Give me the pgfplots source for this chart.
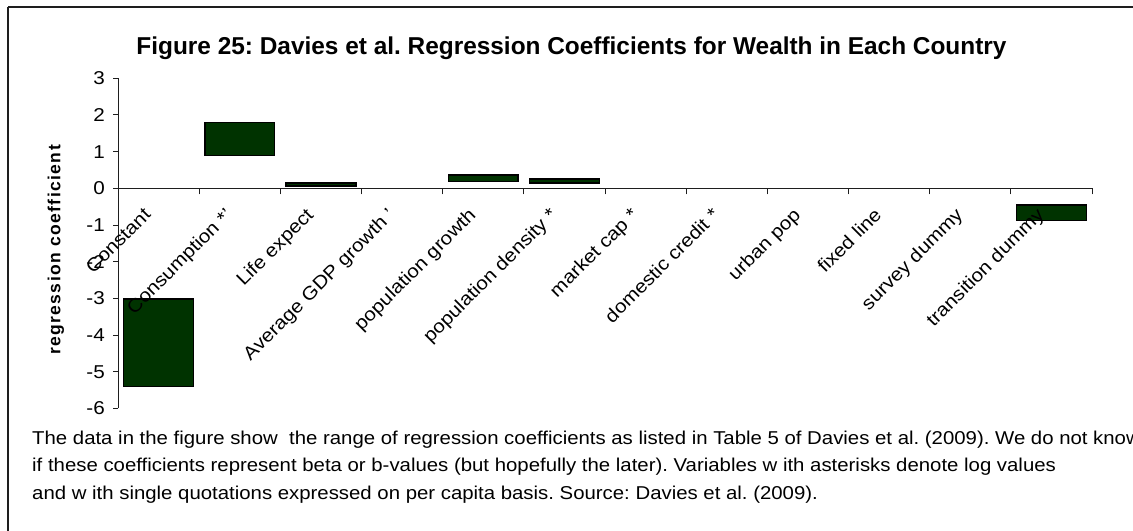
\documentclass[border=0pt]{standalone}
\usepackage{pgfplots}
\usepackage{pgfplotstable}
\pgfplotsset{compat=1.18}
\usepackage{fontspec}
\setmainfont{Liberation Sans}
\definecolor{bargreen}{RGB}{0,51,0}
\definecolor{framegray}{RGB}{30,30,30}
\newcommand\lbl{\fontsize{18.6bp}{21bp}\selectfont\addfontfeature{FakeStretch=1.11}}
\newcommand\capfont{\fontsize{18.6bp}{21bp}\selectfont\addfontfeature{FakeStretch=1.095}}

% each range bar spans from "start" (end nearest zero) to "stop"
\pgfplotstableread{
x    start  stop
0.5  -3.02  -5.40
1.5   0.90   1.79
2.5   0.07   0.15
4.5   0.19   0.36
5.5   0.14   0.26
11.5 -0.45  -0.88
}\ranges

\begin{document}
\frenchspacing
\begin{tikzpicture}
\path[use as bounding box] (0,0) rectangle (1133bp,531bp);
\draw[line width=1.5bp, framegray] (8bp,524bp) -- (1150bp,524bp);
\draw[line width=1.5bp, framegray] (8bp,524bp) -- (8bp,-10bp);

\node[anchor=base, inner sep=0pt, font=\fontsize{24.4bp}{28bp}\selectfont\bfseries]
  at (571.5bp,476bp) {Figure 25: Davies et al. Regression Coefficients for Wealth in Each Country};

\node[rotate=90, inner sep=0pt, font=\fontsize{17.5bp}{20bp}\selectfont\bfseries\addfontfeature{LetterSpace=8}]
  at (56bp,281bp) {regression coefficient};

\begin{axis}[
  at={(118bp,122.5bp)}, anchor=south west,
  scale only axis, width=974bp, height=330.2bp,
  xmin=0, xmax=12, ymin=-6, ymax=3,
  axis x line*=middle, axis y line*=left,
  axis line style={framegray, line width=1bp},
  axis on top=true,
  tick align=outside,
  ybar stacked, bar width=0.86,
  xtick={0.5,1.5,...,11.5},
  xticklabels={Constant, Consumption *', Life expect, Average GDP growth ', population growth, population density *, market cap *, domestic credit *, urban pop, fixed line, survey dummy, transition dummy},
  minor xtick={0,1,...,12},
  major x tick style={draw=none},
  minor x tick style={framegray, line width=1bp},
  minor tick length=6bp,
  major tick length=5bp,
  ytick={-6,-5,...,3},
  yticklabels={-6,-5,-4,-3,-2,-1,0,1,2,3},
  y tick style={framegray, line width=1bp},
  yticklabel style={font=\lbl, inner sep=0pt, xshift=-8bp},
  xticklabel style={font=\lbl, inner sep=0pt, xshift=-16bp, yshift=-13bp, rotate=45, anchor=north east},
  clip=false,
]
\addplot[draw=none, fill=none] table[x=x, y=start] {\ranges};
\addplot[fill=bargreen, draw=black, line width=1.5bp] table[x=x, y expr=\thisrow{stop}-\thisrow{start}] {\ranges};
\end{axis}

\begin{scope}[every node/.style={anchor=base west, inner sep=0pt, font=\capfont}]
\node at (32bp,86bp) {The data in the figure show\ \ the range of regression coefficients as listed in Table 5 of Davies et al. (2009). We do not know};
\node at (32bp,59.3bp) {if these coefficients represent beta or b-values (but hopefully the later). Variables w ith asterisks denote log values};
\node at (32bp,32bp) {and w ith single quotations expressed on per capita basis. Source: Davies et al. (2009).};
\end{scope}
\end{tikzpicture}
\end{document}
